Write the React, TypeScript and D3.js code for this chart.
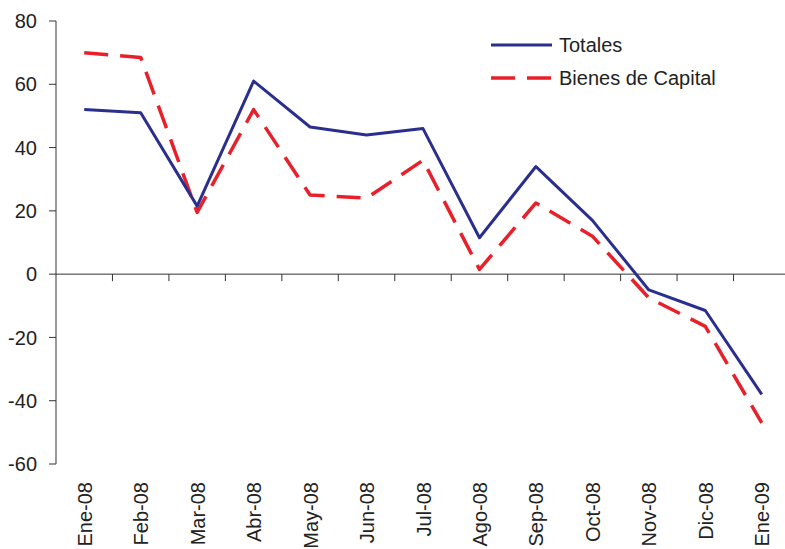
import React, { useEffect, useRef } from 'react';
import * as d3 from 'd3';

const months = [
  'Ene-08', 'Feb-08', 'Mar-08', 'Abr-08', 'May-08', 'Jun-08', 'Jul-08',
  'Ago-08', 'Sep-08', 'Oct-08', 'Nov-08', 'Dic-08', 'Ene-09'
];
const totales = [52, 51, 21.5, 61, 46.5, 44, 46, 11.5, 34, 17, -5, -11.5, -38];
const bienesCapital = [70, 68.5, 19.5, 52, 25, 24, 36, 1.5, 22.5, 12, -7.5, -16.5, -47];
const yTicks = [-60, -40, -20, 0, 20, 40, 60, 80];

const series = [
  { name: 'Totales', values: totales, color: '#2a2f8e', dash: null, width: 3 },
  { name: 'Bienes de Capital', values: bienesCapital, color: '#e8202a', dash: '24 12', width: 3.5 }
];

const App: React.FC = () => {
  const svgRef = useRef<SVGSVGElement>(null);

  useEffect(() => {
    if (!svgRef.current) return;
    const width = 785;
    const height = 549;
    const left = 56;
    const right = 790;
    const top = 21;
    const bottom = 464;
    const fontSize = '20px';

    const svg = d3.select(svgRef.current);
    svg.selectAll('*').remove();
    svg.attr('width', width).attr('height', height)
      .style('font-family', 'Arial, "Liberation Sans", Helvetica, sans-serif');

    const x = d3.scaleBand<string>().domain(months).range([left, right]);
    const y = d3.scaleLinear().domain([-60, 80]).range([bottom, top]);
    const axisColor = '#333';

    // y axis
    svg.append('line')
      .attr('x1', left).attr('x2', left)
      .attr('y1', y(80)).attr('y2', y(-60))
      .attr('stroke', axisColor).attr('stroke-width', 1);
    const yg = svg.append('g');
    yg.selectAll('line')
      .data(yTicks)
      .join('line')
      .attr('x1', left - 7).attr('x2', left)
      .attr('y1', d => y(d)).attr('y2', d => y(d))
      .attr('stroke', axisColor);
    yg.selectAll('text')
      .data(yTicks)
      .join('text')
      .attr('x', left - 19)
      .attr('y', d => y(d))
      .attr('dy', '0.36em')
      .attr('text-anchor', 'end')
      .style('font-size', fontSize)
      .style('fill', '#222')
      .text(d => d);

    // x axis at zero
    svg.append('line')
      .attr('x1', left).attr('x2', right)
      .attr('y1', y(0)).attr('y2', y(0))
      .attr('stroke', axisColor);
    svg.append('g')
      .selectAll('line')
      .data(months.slice(1))
      .join('line')
      .attr('x1', d => x(d)!).attr('x2', d => x(d)!)
      .attr('y1', y(0)).attr('y2', y(0) + 7)
      .attr('stroke', axisColor);

    // category labels
    svg.append('g')
      .selectAll('text')
      .data(months)
      .join('text')
      .attr('transform', d => `translate(${x(d)! + x.bandwidth() / 2 + 7.5},482) rotate(-90)`)
      .attr('text-anchor', 'end')
      .style('font-size', fontSize)
      .style('fill', '#222')
      .text(d => d);

    // lines
    const line = d3.line<number>()
      .x((_, i) => x(months[i])! + x.bandwidth() / 2)
      .y(d => y(d));

    series.slice().reverse().forEach(s => {
      svg.append('path')
        .attr('d', line(s.values)!)
        .attr('fill', 'none')
        .attr('stroke', s.color)
        .attr('stroke-width', s.width)
        .attr('stroke-dasharray', s.dash)
        .attr('stroke-linejoin', 'round');
    });

    // legend
    const lg = svg.append('g');
    series.forEach((s, i) => {
      const ly = 45 + i * 33;
      lg.append('line')
        .attr('x1', 491).attr('x2', 552)
        .attr('y1', ly).attr('y2', ly)
        .attr('stroke', s.color)
        .attr('stroke-width', s.width)
        .attr('stroke-dasharray', s.dash);
      lg.append('text')
        .attr('x', 559).attr('y', ly)
        .attr('dy', '0.36em')
        .style('font-size', fontSize)
        .style('fill', '#222')
        .text(s.name);
    });
  }, []);

  return (
    <svg
      ref={svgRef}
      style={{ position: 'absolute', left: 0, top: 0, background: '#fff' }}
    />
  );
};

export default App;
